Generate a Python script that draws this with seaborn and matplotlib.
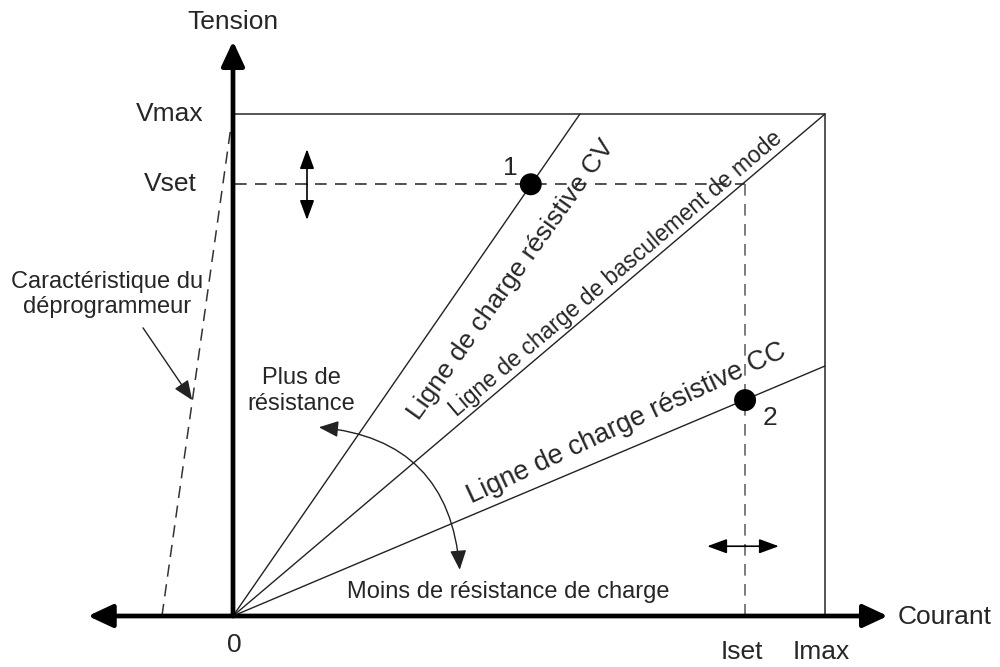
import matplotlib
matplotlib.use('Agg')
import matplotlib.pyplot as plt
from matplotlib.patches import FancyArrowPatch
import seaborn as sns

# normalised operating envelope: Imax = Vmax = 1
i_max, v_max = 1.0, 1.0
i_set, v_set = 0.865, 0.86

cv_line_i = [0.0, 0.586]
cv_line_v = [0.0, 1.0]
mode_line_i = [0.0, 1.0]
mode_line_v = [0.0, 1.0]
cc_line_i = [0.0, 1.0]
cc_line_v = [0.0, 0.498]
deprog_i = [-0.12, -0.004]
deprog_v = [0.0, 0.97]

op_points_i = [0.503, 0.865]
op_points_v = [0.86, 0.43]
op_labels = ['1', '2']

x_ticks = [0.0, 0.865, 1.0]
x_ticklabels = ['0', 'Iset', 'Imax']
y_ticks = [1.0, 0.86]
y_ticklabels = ['Vmax', 'Vset']

sns.set_theme(style='white')
plt.rcParams['font.family'] = ['Liberation Sans', 'DejaVu Sans']

fig = plt.figure(figsize=(10, 6.67), dpi=100)
ax = fig.add_axes([0, 0, 1, 1])
ax.set_xlim(-233 / 592, 767 / 592)
ax.set_ylim(-51 / 502, 616 / 502)
ax.axis('off')

LINE = '#222222'
BIG, SMALL = 19, 17

# main axes with arrow heads
ax.annotate('', xy=(1.106, 0), xytext=(-0.245, 0),
            arrowprops=dict(arrowstyle='<|-|>,head_length=0.75,head_width=0.35',
                            mutation_scale=20, lw=3.4, color='black',
                            shrinkA=0, shrinkB=0))
ax.annotate('', xy=(0, 1.145), xytext=(0, 0),
            arrowprops=dict(arrowstyle='-|>,head_length=0.75,head_width=0.35',
                            mutation_scale=20, lw=3.4, color='black',
                            shrinkA=0, shrinkB=0))

# envelope box
sns.lineplot(x=[0.004, i_max, i_max], y=[v_max, v_max, 0], sort=False,
             estimator=None, color='#555555', lw=1.4, ax=ax)

# Vset / Iset dashed guides
sns.lineplot(x=[0.004, i_set], y=[v_set, v_set], sort=False, estimator=None,
             color='#333333', lw=1.2, ls=(0, (7, 5)), ax=ax)
sns.lineplot(x=[i_set, i_set], y=[v_set, 0], sort=False, estimator=None,
             color='#666666', lw=1.2, ls=(0, (7, 5)), ax=ax)

# load lines
for xs, ys in [(cv_line_i, cv_line_v), (mode_line_i, mode_line_v), (cc_line_i, cc_line_v)]:
    sns.lineplot(x=xs, y=ys, sort=False, estimator=None, color=LINE, lw=1.0, ax=ax)

# downprogrammer characteristic
sns.lineplot(x=deprog_i, y=deprog_v, sort=False, estimator=None,
             color='#333333', lw=1.1, ls=(0, (8, 5)), ax=ax)

# operating points
sns.scatterplot(x=op_points_i, y=op_points_v, s=250, color='black',
                edgecolor='none', ax=ax, zorder=5, legend=False)
ax.text(0.468, 0.892, op_labels[0], fontsize=BIG, ha='center', va='center')
ax.text(0.907, 0.394, op_labels[1], fontsize=BIG, ha='center', va='center')

# tick-like labels
ax.text(x_ticks[0] + 0.002, -0.058, x_ticklabels[0], fontsize=BIG, ha='center', va='center')
for xv, lab in zip(x_ticks[1:], x_ticklabels[1:]):
    ax.text(xv - 0.006, -0.072, lab, fontsize=BIG, ha='center', va='center')
ax.text(-0.049, y_ticks[0], y_ticklabels[0], fontsize=BIG, ha='right', va='center')
ax.text(-0.061, y_ticks[1], y_ticklabels[1], fontsize=BIG, ha='right', va='center')

ax.text(0, 1.183, 'Tension', fontsize=BIG, ha='center', va='center')
ax.text(1.123, -0.002, 'Courant', fontsize=BIG, ha='left', va='center')

# rotated load line labels
ax.text(0.470, 0.670, 'Ligne de charge résistive CV', fontsize=19,
        rotation=54.5, rotation_mode='anchor', ha='center', va='center')
ax.text(0.647, 0.681, 'Ligne de charge de basculement de mode', fontsize=16.5,
        rotation=40.3, rotation_mode='anchor', ha='center', va='center')
ax.text(0.665, 0.383, 'Ligne de charge résistive CC', fontsize=19.5,
        rotation=25, rotation_mode='anchor', ha='center', va='center')

# downprogrammer note
ax.text(-0.213, 0.641, 'Caractéristique du\ndéprogrammeur', fontsize=SMALL,
        ha='center', va='center', linespacing=1.2)
ax.annotate('', xy=(-0.069, 0.430), xytext=(-0.152, 0.574),
            arrowprops=dict(arrowstyle='-|>,head_length=0.6,head_width=0.25',
                            mutation_scale=20, lw=1.0, color=LINE,
                            shrinkA=0, shrinkB=0))

# resistance sweep
ax.text(0.115, 0.448, 'Plus de\nrésistance', fontsize=SMALL, ha='center',
        va='center', linespacing=1.2)
ax.text(0.4645, 0.048, 'Moins de résistance de charge', fontsize=SMALL,
        ha='center', va='center')
sweep = FancyArrowPatch((0.145, 0.376), (0.383, 0.092),
                        connectionstyle='arc3,rad=-0.42',
                        arrowstyle='<|-|>,head_length=0.6,head_width=0.25',
                        mutation_scale=20, lw=1.0, color=LINE,
                        shrinkA=0, shrinkB=0)
ax.add_patch(sweep)

# adjustment arrows
for start, end in [((0.125, 0.86), (0.125, 0.930)), ((0.125, 0.86), (0.125, 0.789)),
                   ((0.865, 0.139), (0.801, 0.139)), ((0.865, 0.139), (0.922, 0.139))]:
    ax.annotate('', xy=end, xytext=start,
                arrowprops=dict(arrowstyle='-|>,head_length=0.6,head_width=0.22',
                                mutation_scale=20, lw=1.2, color='black',
                                shrinkA=0, shrinkB=0))

fig.savefig('out.png', dpi=100)
